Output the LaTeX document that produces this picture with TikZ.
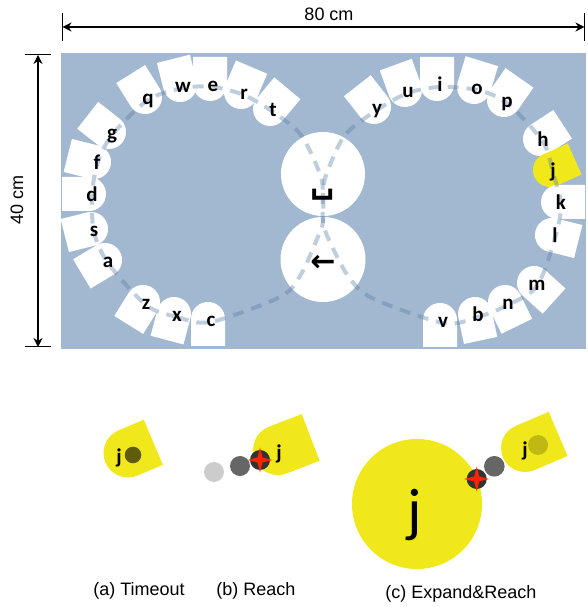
\documentclass[tikz,border=0pt]{standalone}
\usepackage{fontspec}
\setmainfont{Liberation Sans}
\newfontfamily\keyfont{Carlito}
\newfontfamily\symfont{DejaVu Sans}
\usetikzlibrary{arrows.meta}
\definecolor{panelblue}{RGB}{162,184,208}
\definecolor{keyyellow}{RGB}{240,232,26}
\definecolor{tracecol}{RGB}{89,126,166}
\definecolor{starred}{RGB}{255,36,0}
\tikzset{
  dashtrace/.style={tracecol,opacity=0.38,line width=4pt,dash pattern=on 11pt off 8pt},
  keylabel/.style={font=\keyfont\bfseries\fontsize{21}{21}\selectfont,inner sep=0pt,text height=10pt,text depth=0.2pt},
  symlabel/.style={font=\symfont\bfseries\fontsize{#1}{#1}\selectfont,inner sep=0pt},
  dimline/.style={line width=1.5pt,{Stealth[length=9pt,width=9pt]}-{Stealth[length=9pt,width=9pt]}},
  dimbar/.style={line width=1pt},
  caption/.style={font=\fontsize{18}{18}\selectfont,inner sep=0pt}
}
\newcommand{\keypath}[2]{(0,-#1) -- (#2,-#1) -- (#2,#1) -- (0,#1) arc[start angle=90,end angle=270,radius=#1] -- cycle}
\newcommand{\hitmark}[1]{\fill[starred,shift={#1}] (0,12.5) -- (2.5,2.5) -- (12.5,0) -- (2.5,-2.5) -- (0,-12.5) -- (-2.5,-2.5) -- (-12.5,0) -- (-2.5,2.5) -- cycle;}

\begin{document}
\begin{tikzpicture}[x=1pt,y=1pt]
  \useasboundingbox (0,0) rectangle (588,607);
  % board
  \fill[panelblue] (61,258) rectangle (586,554);
  % keys of both rings
  \foreach \n/\x/\y/\a/\fc in {q/148/507/122/white, w/183/519/104/white, e/213/520/90/white,
      r/244/512/67/white, t/273/495/50/white, g/112/472/142/white, f/97/442/166/white,
      d/92/410/180/white, s/94/375/194/white, a/108/344/211/white, z/146/302/238/white,
      x/177/290/255/white, c/211/285/270/white,
      y/377/497/128/white, u/408/514/110/white, i/440/520/90/white, o/477/517/73/white,
      p/507/504/55/white, h/543/465/33/white, j/553/434/24/keyyellow, k/561/402/0/white,
      l/555/369/-14/white, m/537/321/-42/white, n/508/302/-64/white, b/478/290/-78/white,
      v/443/284/-90/white}{
    \coordinate (k\n) at (\x,\y);
    \fill[\fc,shift={(\x-3,\y+3)},rotate=\a] \keypath{17}{27};
  }
  % space and backspace
  \fill[white] (323,433) circle[radius=42];
  \fill[white] (323,347.5) circle[radius=42.5];
  \coordinate (l1) at (301,472);
  \coordinate (l2) at (320,433);
  \coordinate (sp) at (323,413);
  \coordinate (bs) at (323,385);
  \coordinate (l3) at (317,368);
  \coordinate (l4) at (300,331);
  \coordinate (l5) at (280,310);
  \coordinate (r1) at (345,472);
  \coordinate (r2) at (326.5,433);
  \coordinate (r3) at (329,367);
  \coordinate (r4) at (348,331);
  \coordinate (r5) at (372,309);
  % traces
  \draw[dashtrace] plot[smooth cycle] coordinates {(kc) (kx) (kz) (ka) (ks) (kd) (kf) (kg) (kq) (kw) (ke) (kr) (kt) (l1) (l2) (sp) (bs) (l3) (l4) (l5)};
  \draw[dashtrace] plot[smooth cycle] coordinates {(kv) (kb) (kn) (km) (kl) (kk) (kj) (kh) (kp) (ko) (ki) (ku) (ky) (r1) (r2) (sp) (bs) (r3) (r4) (r5)};
  \foreach \n in {q,w,e,r,t,g,f,d,s,a,z,x,c,y,u,i,o,p,h,j,k,l,m,n,b,v}
    \node[keylabel] (lab\n) at (k\n) {\n};
  \node[symlabel=34] (spacekey) at (323,412) {␣};
  \node[symlabel=30] (backkey) at (323,343.5) {←};

  % dimensions
  \coordinate (dimL) at (62.5,580);
  \coordinate (dimR) at (584.5,580);
  \draw[dimline] (dimL) -- (dimR);
  \draw[dimbar] (62.5,566) -- (62.5,594);
  \draw[dimbar] (584.5,566) -- (584.5,594);
  \node[caption] (widthlab) at (329,593) {80 cm};
  \coordinate (dimT) at (38,552);
  \coordinate (dimB) at (38,260);
  \draw[dimline] (dimT) -- (dimB);
  \draw[dimbar] (25,552) -- (51,552);
  \draw[dimbar] (25,260) -- (51,260);
  \node[caption,rotate=90] (heightlab) at (17,407) {40 cm};

  % (a) timeout
  \fill[keyyellow,shift={(128,154)},rotate=23] \keypath{24.5}{27.5};
  \node[keylabel] (ja) at (119,148) {j};
  \fill[black,opacity=0.6] (133,152) circle[radius=8.3];
  % (b) reach
  \fill[keyyellow,shift={(278,157)},rotate=21] \keypath{25}{35};
  \node[keylabel] (jb) at (279,152) {j};
  \fill[black!20] (214,135) circle[radius=10];
  \fill[black!60] (240,141) circle[radius=10];
  \fill[black!80] (260,147) circle[radius=10];
  \hitmark{(260,147)}
  % (c) expand and reach
  \fill[keyyellow] (417,103) circle[radius=65];
  \node[font=\keyfont\fontsize{60}{60}\selectfont,inner sep=0pt] (jbig) at (415,92) {j};
  \fill[black!80] (476.7,128) circle[radius=10];
  \hitmark{(476.7,128)}
  \fill[black!60] (494.3,140.7) circle[radius=10.3];
  \fill[keyyellow,shift={(525,159)},rotate=23] \keypath{24}{36};
  \node[keylabel] (jc) at (525,155) {j};
  \fill[black,opacity=0.2] (538,162) circle[radius=10];

  \node[caption] (capa) at (139,16) {(a) Timeout};
  \node[caption] (capb) at (256,16) {(b) Reach};
  \node[caption] (capc) at (461,13) {(c) Expand\&Reach};
\end{tikzpicture}
\end{document}
